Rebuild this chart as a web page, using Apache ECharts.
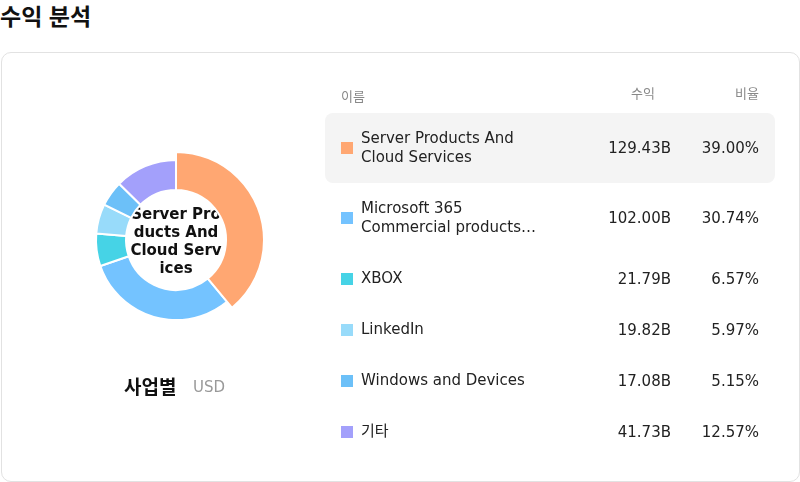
<!DOCTYPE html>
<html lang="ko">
<head>
<meta charset="UTF-8">
<title>수익 분석</title>
<script src="https://cdn.jsdelivr.net/npm/echarts@6/dist/echarts.min.js"></script>
<style>
body{margin:0;width:800px;height:482px;font-family:"DejaVu Sans","Noto Sans CJK KR",sans-serif;background:#fff;overflow:hidden}
h1{position:absolute;left:0;top:0;margin:0;font-size:23px;font-weight:bold;color:#111;line-height:30px;font-family:"Noto Sans CJK KR",sans-serif}
.card{position:absolute;left:1px;top:52px;width:797px;height:428px;border:1px solid #e2e2e2;border-radius:10px}
#pie{position:absolute;left:0;top:0;width:350px;height:428px}
.tbl{position:absolute;left:323px;top:28px;width:450px}
.hd{display:flex;font-size:13px;color:#888;height:32px;line-height:26px}
.row{display:flex;align-items:center;height:51px;font-size:15px;color:#222;border-radius:8px}
.row.sel{background:#f4f4f4;height:70px}
.c1{flex:1;display:flex;align-items:center;padding-left:16px}
.c2{width:130px;text-align:right}
.c3{width:104px;text-align:right;padding-right:16px}
.sw{width:12px;height:12px;margin-right:8px;flex:none}
.nm{line-height:19px;width:200px;white-space:pre}
</style>
</head>
<body>
<h1>수익 분석</h1>
<div class="card">
  <div id="pie"></div>
  <div class="tbl" id="tbl"></div>
</div>
<script>
var names = ['Server Products And Cloud Services', 'Microsoft 365 Commercial products…', 'XBOX', 'LinkedIn', 'Windows and Devices', '기타'];
var tableNames = ['Server Products And\nCloud Services', 'Microsoft 365\nCommercial products…', 'XBOX', 'LinkedIn', 'Windows and Devices', '기타'];
var revenue = [129.43, 102.00, 21.79, 19.82, 17.08, 41.73];
var shares = ['39.00%', '30.74%', '6.57%', '5.97%', '5.15%', '12.57%'];
var colors = ['#ffa772', '#74c3ff', '#46d3e6', '#98dbfa', '#6cc0f8', '#a3a0fb'];

// 표
var html = '<div class="hd"><div class="c1">이름</div><div class="c2">수익</div><div class="c3">비율</div></div>';
tableNames.forEach(function (n, i) {
    html += '<div class="row' + (i === 0 ? ' sel' : '') + '"' + (i === 1 ? ' style="height:70px"' : '') + '>' +
        '<div class="c1"><span class="sw" style="background:' + colors[i] + '"></span><span class="nm">' + n + '</span></div>' +
        '<div class="c2">' + revenue[i].toFixed(2) + 'B</div><div class="c3">' + shares[i] + '</div></div>';
});
document.getElementById('tbl').innerHTML = html;

var chart = echarts.init(document.getElementById('pie'));
chart.setOption({
    animation: false,
    color: colors,
    graphic: [
        {type: 'text', x: 174, y: 189, style: {text: 'Server Pro\nducts And\nCloud Serv\nices', font: 'bold 15px "DejaVu Sans"', fill: '#111', align: 'center', verticalAlign: 'middle', lineHeight: 18}},
        {type: 'text', x: 122, y: 324, style: {text: '사업별', font: 'bold 19px "Noto Sans CJK KR"', fill: '#111'}},
        {type: 'text', x: 191, y: 328, style: {text: 'USD', font: '15px "DejaVu Sans"', fill: '#999'}}
    ],
    series: [{
        type: 'pie',
        center: [174, 187],
        radius: [50, 80],
        startAngle: 90,
        label: {show: false},
        labelLine: {show: false},
        itemStyle: {borderColor: '#fff', borderWidth: 2},
        emphasis: {scale: true, scaleSize: 8, label: {show: false}, itemStyle: {color: 'inherit'}},
        data: names.map(function (n, i) {
            return {name: n, value: revenue[i], emphasis: {itemStyle: {color: colors[i]}}};
        })
    }]
});
chart.dispatchAction({type: 'highlight', seriesIndex: 0, dataIndex: 0});
</script>
</body>
</html>
